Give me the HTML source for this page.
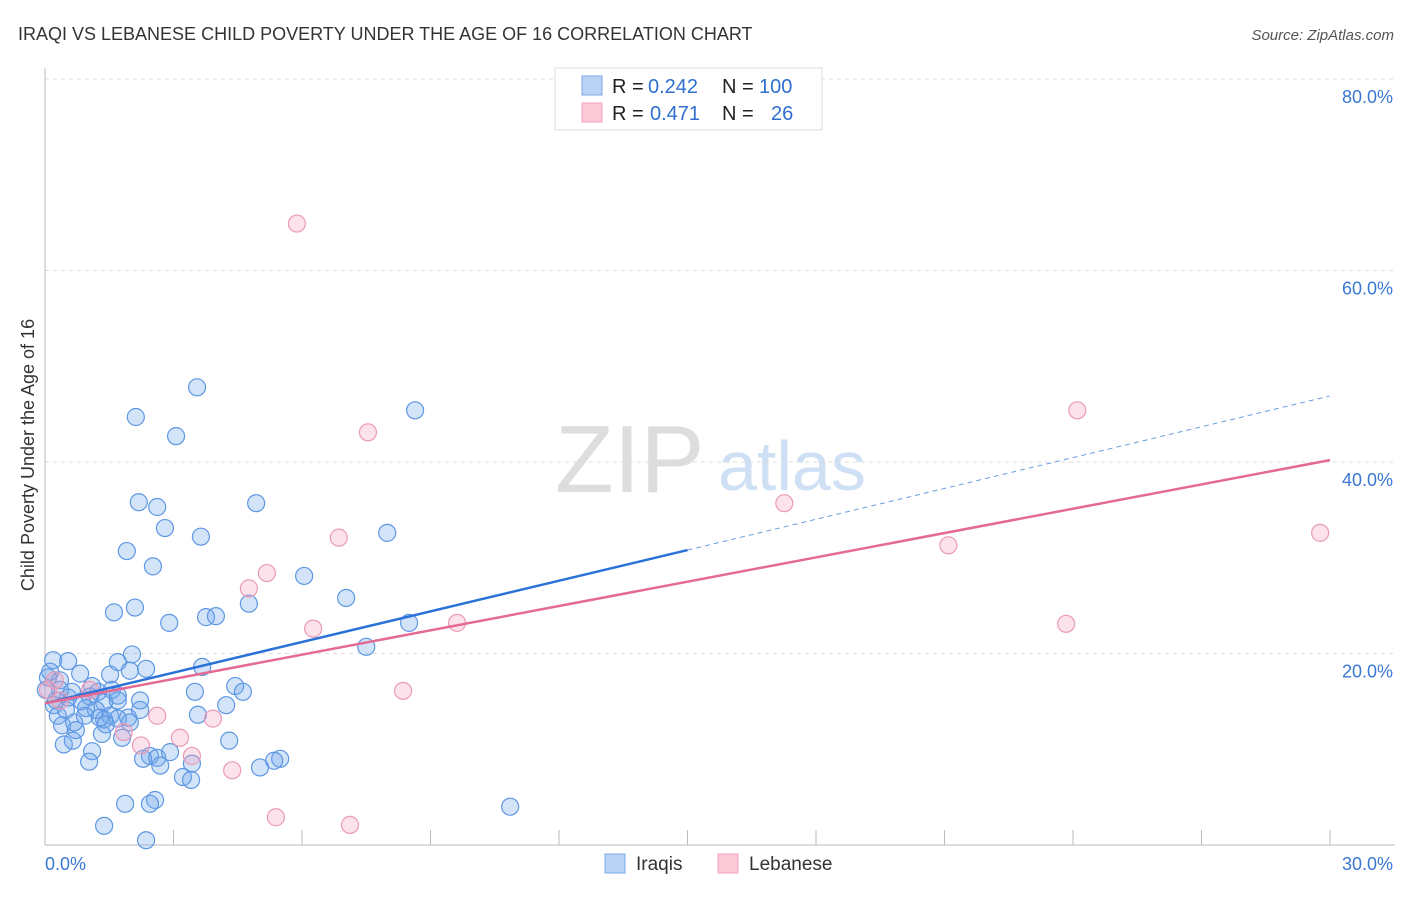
<!DOCTYPE html>
<html><head><meta charset="utf-8"><style>
body{margin:0;background:#fff;font-family:"Liberation Sans",sans-serif;}
svg text{font-family:"Liberation Sans",sans-serif;}
</style></head><body>
<svg id="chart" width="1406" height="892">
<text x="18" y="40" font-size="18" fill="#333">IRAQI VS LEBANESE CHILD POVERTY UNDER THE AGE OF 16 CORRELATION CHART</text>
<text x="1394" y="40" font-size="15" fill="#555" text-anchor="end" font-style="italic">Source: ZipAtlas.com</text>
<text x="555" y="492" font-size="96" fill="#ddd" font-family="Liberation Serif">ZIP</text>
<text x="718" y="490" font-size="70" fill="#cfe0f5">atlas</text>
<text transform="translate(34,455) rotate(-90)" font-size="18" fill="#333" text-anchor="middle">Child Poverty Under the Age of 16</text>
<g id="grid"></g><g id="marks"></g>
<g>
<rect x="555" y="68" width="267" height="62" fill="#fff" stroke="#ddd"/>
<rect x="582" y="76" width="20" height="19" fill="#b9d3f5" stroke="#7aaae6"/>
<rect x="582" y="103" width="20" height="19" fill="#fbcad8" stroke="#f0a0b8"/>
<text x="612" y="93" font-size="20" fill="#222">R =</text>
<text x="648" y="93" font-size="20" fill="#2f6fd0">0.242</text>
<text x="722" y="93" font-size="20" fill="#222">N =</text>
<text x="759" y="93" font-size="20" fill="#2f6fd0">100</text>
<text x="612" y="120" font-size="20" fill="#222">R =</text>
<text x="650" y="120" font-size="20" fill="#2f6fd0">0.471</text>
<text x="722" y="120" font-size="20" fill="#222">N =</text>
<text x="771" y="120" font-size="20" fill="#2f6fd0">26</text>
</g>
<g>
<rect x="605" y="854" width="20" height="19" fill="#b9d3f5" stroke="#7aaae6"/>
<text x="636" y="870" font-size="19" fill="#333">Iraqis</text>
<rect x="718" y="854" width="20" height="19" fill="#fbcad8" stroke="#f0a0b8"/>
<text x="749" y="870" font-size="19" fill="#333">Lebanese</text>
</g>
</svg>
<script>
const yTicks=[20,40,60,80];
const yTickLabels=["20.0%","40.0%","60.0%","80.0%"];
const xTicks=[3,6,9,12,15,18,21,24,27,30];
const xEndLabels=["0.0%","30.0%"];
const iraqiX=[3.55,2.12,3.06,8.64,2.19,2.62,4.93,2.80,3.64,7.99,1.91,2.52,6.05,7.03,2.10,1.61,4.76,2.90,3.76,3.99,8.50,7.50,2.03,0.19,0.54,1.70,2.36,1.98,3.67,0.82,1.52,0.07,0.35,4.44,4.62,3.50,0.63,1.24,1.56,1.05,1.70,0.54,0.86,1.38,0.21,1.19,4.23,2.22,0.30,0.93,1.52,1.94,1.38,1.70,3.57,0.40,0.72,1.33,1.80,4.30,0.44,0.65,1.10,2.45,2.29,2.62,2.69,3.43,1.03,5.49,5.35,5.02,3.22,3.41,1.87,2.57,2.45,1.38,2.36,10.86,0.02,0.12,0.26,0.49,0.68,0.96,1.28,1.42,1.98,1.70,0.35,1.10,2.22,2.92];
const iraqiY=[47.8,44.7,42.7,45.4,35.8,35.3,35.7,33.1,32.2,32.6,30.7,29.1,28.1,25.8,24.8,24.3,25.2,23.2,23.8,23.9,23.2,20.7,19.9,19.3,19.2,19.1,18.4,18.2,18.6,17.9,17.8,17.5,17.2,16.6,16.0,16.0,16.0,16.0,16.2,15.5,15.6,15.4,15.0,14.9,14.6,14.1,14.6,14.1,13.5,13.5,13.5,13.3,13.1,13.2,13.6,12.5,12.0,11.6,11.2,10.9,10.5,10.9,9.8,9.3,9.0,9.1,8.3,8.5,8.7,9.0,8.8,8.1,7.1,6.8,4.3,4.7,4.3,2.0,0.5,4.0,16.2,18.1,15.1,14.1,12.8,14.3,13.3,12.6,12.8,15.1,16.2,16.6,15.1,9.7];
const lebX=[5.88,7.54,24.10,17.26,6.86,21.09,29.77,5.18,4.76,6.26,9.62,23.84,8.36,2.62,3.92,3.15,2.24,3.43,1.84,4.37,5.39,7.12,0.07,0.23,1.05,0.35];
const lebY=[64.9,43.1,45.4,35.7,32.1,31.3,32.6,28.4,26.8,22.6,23.2,23.1,16.1,13.5,13.2,11.2,10.4,9.3,11.8,7.8,2.9,2.1,16.2,17.2,16.2,15.1];
const iraqiTrend=[14.8,30.8,46.9]; // at x=0,15,30
const lebTrend=[14.8,40.2]; // at x=0,30

const NS="http://www.w3.org/2000/svg";
const X0=45,X1=1330,Y0=845,Y80=79;
const sx=v=>X0+(X1-X0)*v/30;
const sy=v=>Y0-(Y0-Y80)*v/80;
function mk(t,a,p){const e=document.createElementNS(NS,t);for(const k in a)e.setAttribute(k,a[k]);p.appendChild(e);return e;}
const grid=document.getElementById('grid'),marks=document.getElementById('marks');
yTicks.forEach((t,i)=>{
 let l=mk('line',{x1:45,x2:1395,y1:sy(t),y2:sy(t),stroke:'#ddd','stroke-dasharray':'4,4'},grid);
 
 
 let tx=mk('text',{x:1393,y:sy(t)+24,'font-size':18,fill:'#3a78d4','text-anchor':'end'},grid);
 tx.textContent=yTickLabels[i];
 
 
});
let ya=mk('line',{x1:45,x2:45,y1:68,y2:845,stroke:'#bbb'},grid);


let xa=mk('line',{x1:45,x2:1395,y1:845,y2:845,stroke:'#bbb'},grid);


xTicks.forEach(t=>{
 let l=mk('line',{x1:sx(t),x2:sx(t),y1:830,y2:845,stroke:'#bbb'},grid);
 
 
});
[[0,'start',45],[30,'end',1393]].forEach((d,i)=>{
 let tx=mk('text',{x:d[2],y:870,'font-size':18,fill:'#3a78d4','text-anchor':d[1]},grid);
 tx.textContent=xEndLabels[i];
 
 
});
iraqiX.forEach((x,i)=>{
 let c=mk('circle',{cx:sx(x),cy:sy(iraqiY[i]),r:8.5,fill:'rgba(110,165,235,0.3)',stroke:'#5e97e2','stroke-width':1.2},marks);
 
 
});
lebX.forEach((x,i)=>{
 let c=mk('circle',{cx:sx(x),cy:sy(lebY[i]),r:8.5,fill:'rgba(245,160,190,0.3)',stroke:'#eb9ab5','stroke-width':1.2},marks);
 
 
});
let t1=mk('line',{x1:sx(0),y1:sy(iraqiTrend[0]),x2:sx(15),y2:sy(iraqiTrend[1]),stroke:'#2a72d8','stroke-width':2.5},marks);


let t2=mk('line',{x1:sx(15),y1:sy(iraqiTrend[1]),x2:sx(30),y2:sy(iraqiTrend[2]),stroke:'#6a9ee0','stroke-width':1,'stroke-dasharray':'5,4'},marks);


let t3=mk('line',{x1:sx(0),y1:sy(lebTrend[0]),x2:sx(30),y2:sy(lebTrend[1]),stroke:'#e46a94','stroke-width':2.5},marks);


</script>
</body></html>
